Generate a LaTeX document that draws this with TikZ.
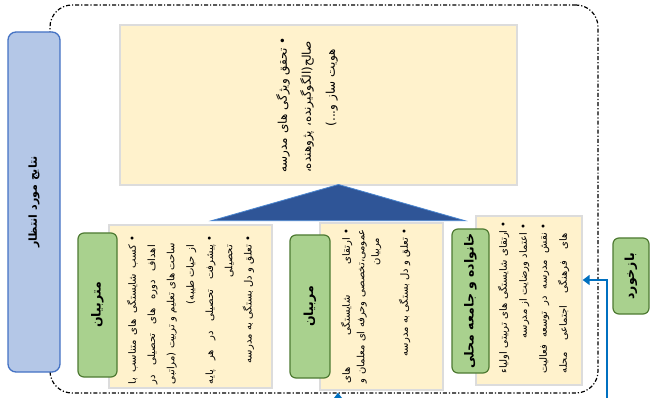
\documentclass[tikz,border=0pt]{standalone}
\usepackage{fontspec}
\newfontfamily\arabicfont[Script=Arabic]{DejaVu Sans}
\TeXXeTstate=1
\usetikzlibrary{arrows.meta}
\definecolor{boxfill}{HTML}{FFF2CC}
\definecolor{boxline}{HTML}{DCDCDC}
\definecolor{grfill}{HTML}{A9D18E}
\definecolor{grline}{HTML}{4E7A32}
\definecolor{blfill}{HTML}{B4C7E7}
\definecolor{blline}{HTML}{4472C4}
\definecolor{trifill}{HTML}{2F5597}
\definecolor{triline}{HTML}{4A86D0}
\definecolor{arrcol}{HTML}{0070C0}
\newcommand{\bl}[1]{\beginR\makebox[1.2em][c]{•}#1\endR}
\newcommand{\cl}[1]{\beginR\hspace*{1.2em}#1\endR}
\newcommand{\jb}[1]{\leavevmode\hbox to \hsize{\beginR\makebox[1.2em][c]{•}#1\endR}}
\newcommand{\jc}[1]{\leavevmode\hbox to \hsize{\beginR\hspace*{1.2em}#1\endR}}
\begin{document}
\begin{tikzpicture}[x=1pt,y=-1pt,
  ybox/.style={draw=boxline, fill=boxfill, line width=1.3pt, inner sep=0pt},
  gbox/.style={draw=grline, fill=grfill, line width=1.2pt, rounded corners=6pt, inner sep=0pt,
     rotate=90, font=\arabicfont\bfseries\fontsize{12.5}{14}\selectfont},
  bbox/.style={draw=blline, fill=blfill, line width=1.3pt, rounded corners=8pt, inner sep=0pt,
     rotate=90, font=\arabicfont\bfseries\fontsize{11}{13}\selectfont},
  txt/.style={rotate=90, inner sep=0pt, align=right, text width=#1},
  frame/.style={draw=black, line width=1.2pt, rounded corners=22pt, inner sep=0pt,
     dash pattern=on 4pt off 2pt on 1.2pt off 2pt},
  arrowline/.style={draw=arrcol, line width=2.6pt, -{Triangle[length=7pt,width=10pt]}},
  tristyle/.style={fill=trifill, draw=triline, line width=0.8pt}
]
\useasboundingbox (0,0) rectangle (651,398);
\clip (0,0) rectangle (651,398);
\fill[white] (0,0) rectangle (651,398);

% dash-dot frame
\node[frame, minimum width=548pt, minimum height=388pt] (F) at (324,199) {};

% result box
\node[bbox, minimum width=340pt, minimum height=52pt] (R) at (34,202) {\beginR نتایج مورد انتظار\endR};

% top box
\node[ybox, minimum width=397pt, minimum height=160pt] (T) at (318.5,105) {};
\node[txt=138pt, font=\arabicfont\fontsize{12}{24}\selectfont] (Tt) at (307,104) {%
\jb{تحقق \hfill ویژگی \hfill های \hfill مدرسه}\\
\jc{صالح(الگوگیرنده، \hfill پژوهنده،}\\
\cl{هویت ساز و...)}};

% triangle
\coordinate (apex) at (338.5,184.5);
\coordinate (bl) at (211.5,220.7);
\coordinate (br) at (465,220.7);
\draw[tristyle] (apex) -- (bl) -- (br) -- cycle;

% box 1
\node[ybox, minimum width=163pt, minimum height=163pt] (B1) at (190.5,306.5) {};
\node[txt=151pt, font=\arabicfont\fontsize{10}{19.3}\selectfont] (B1t) at (190.5,308.5) {%
\jb{کسب \hfill شایستگی \hfill های \hfill متناسب \hfill با}\\
\jc{اهداف \hfill دوره \hfill های \hfill تحصیلی \hfill در}\\
\jc{ساحت \hfill های \hfill تعلیم \hfill و \hfill تربیت \hfill (مراتبی}\\
\cl{از حیات طیبه)}\\
\jb{پیشرفت \hfill تحصیلی \hfill در \hfill هر \hfill پایه}\\
\cl{تحصیلی}\\
\bl{تعلق و دل بستگی به مدرسه}};
\node[gbox, minimum width=144pt, minimum height=39pt] (G1) at (97.5,305) {\beginR متربیان\endR};

% box 2
\node[ybox, minimum width=123pt, minimum height=167pt] (B2) at (381.5,306.5) {};
\node[txt=157pt, font=\arabicfont\fontsize{10}{14.5}\selectfont] (B2t) at (375.5,304.5) {%
\jb{ارتقای \hfill شایستگی \hfill های}\\
\jc{عمومی،تخصصی \hfill وحرفه \hfill ای \hfill معلمان \hfill و}\\
\cl{مربیان}\\[14.5pt]
\bl{تعلق و دل بستگی به مدرسه}};
\node[gbox, minimum width=143pt, minimum height=40pt] (G2) at (310,306.5) {\beginR مربیان\endR};

% box 3
\node[ybox, minimum width=106pt, minimum height=169pt] (B3) at (529,300.5) {};
\node[txt=152pt, font=\arabicfont\fontsize{10}{20}\selectfont] (B3t) at (533.5,297) {%
\jb{ارتقای \hfill شایستگی \hfill های \hfill تربیتی \hfill اولیاء}\\
\bl{اعتماد ورضایت از مدرسه}\\
\jb{نقش \hfill مدرسه \hfill در \hfill توسعه \hfill فعالیت}\\
\jc{های \hfill فرهنگی \hfill اجتماعی \hfill محله}};
\node[gbox, minimum width=144pt, minimum height=37pt] (G3) at (470.5,301) {\beginR خانواده و جامعه محلی\endR};

% feedback
\node[gbox, minimum width=76pt, minimum height=36pt] (G4) at (631,276) {\beginR بازخورد\endR};
\coordinate (fb) at (607,400);
\draw[arrowline] (fb) |- ([yshift=20.5pt]B3.east);

% partial arrow at bottom
\coordinate (ba) at (338,412);
\draw[arrowline] (ba) -- ([yshift=-2pt]B2.south -| ba);
\end{tikzpicture}
\end{document}
